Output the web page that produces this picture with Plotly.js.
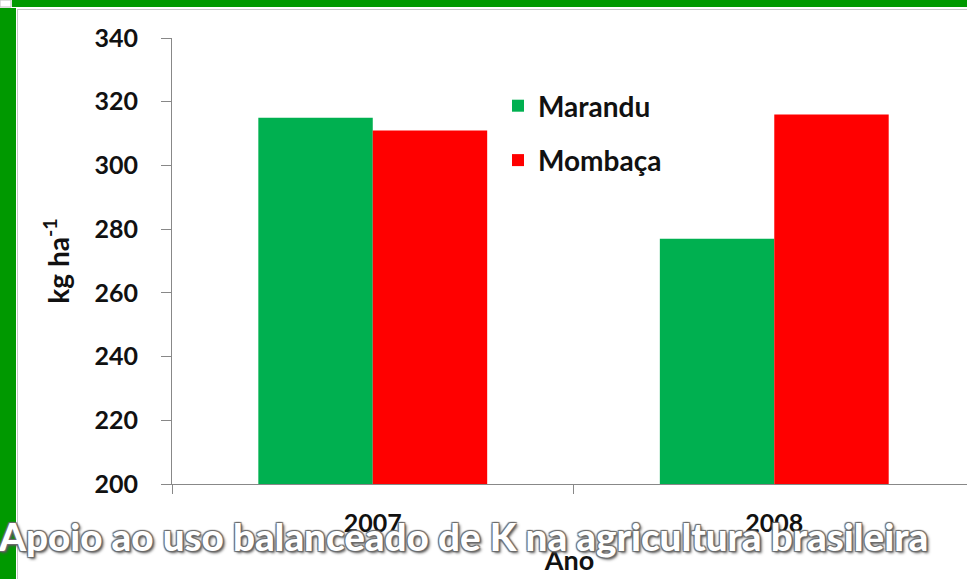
<!DOCTYPE html>
<html>
<head>
<meta charset="utf-8">
<script src="https://cdn.plot.ly/plotly-3.0.1.min.js"></script>
<style>
html,body{margin:0;padding:0;background:#fff;}
#chart{width:967px;height:579px;}
</style>
</head>
<body>
<div id="chart"></div>
<script>
const years = ['2007', '2008'];
const marandu = [315, 277];
const mombaca = [311, 316];
const seriesNames = ['Marandu', 'Mombaça'];
const yTicks = [200, 220, 240, 260, 280, 300, 320, 340];

const W = 967, H = 579;
const L = 172, R = 0, T = 38, B = 95;
const pw = W - L - R, ph = H - T - B;
function px(x) { return (x - L) / pw; }
function py(y) { return (H - B - y) / ph; }

const green = '#00B050', red = '#FF0000', frame = '#009900';
const fontMain = 'Lato, "Open Sans", sans-serif';

const traces = [
  { type: 'bar', x: years, y: marandu, name: seriesNames[0], legendgroup: 'a',
    marker: { color: green, line: { width: 0 } } },
  { type: 'bar', x: years, y: mombaca, name: seriesNames[1], legendgroup: 'b',
    marker: { color: red, line: { width: 0 } } }
];

const shapes = [
  { type: 'rect', xref: 'paper', yref: 'paper', x0: px(12), x1: px(967), y0: py(0), y1: py(7),
    fillcolor: frame, line: { width: 0 }, layer: 'below' },
  { type: 'rect', xref: 'paper', yref: 'paper', x0: px(0), x1: px(16), y0: py(8), y1: py(579),
    fillcolor: frame, line: { width: 0 }, layer: 'below' },
  { type: 'rect', xref: 'paper', yref: 'paper', x0: px(0), x1: px(11), y0: py(0), y1: py(7),
    fillcolor: '#ffffff', line: { width: 1, color: '#bdbdbd' }, layer: 'below' },
  { type: 'line', xref: 'paper', yref: 'paper', x0: px(17.5), x1: px(17.5), y0: py(9), y1: py(579),
    line: { width: 1, color: '#c8c8c8' }, layer: 'below' },
  { type: 'line', xref: 'paper', yref: 'paper', x0: px(17.5), x1: px(967), y0: py(9.5), y1: py(9.5),
    line: { width: 1, color: '#c8c8c8' }, layer: 'below' }
];

const layout = {
  width: W, height: H,
  margin: { l: L, r: R, t: T, b: B, pad: 0 },
  paper_bgcolor: '#ffffff', plot_bgcolor: '#ffffff',
  font: { family: fontMain, color: '#111111' },
  barmode: 'group', bargap: 0.43, bargroupgap: 0,
  showlegend: true,
  legend: {
    x: px(498), y: py(81), xanchor: 'left', yanchor: 'top',
    font: { family: fontMain, size: 28, weight: 'bold', color: '#111' },
    bgcolor: 'rgba(0,0,0,0)', tracegroupgap: 15, traceorder: 'grouped'
  },
  xaxis: {
    type: 'category', range: [-0.5, 1.48],
    showline: true, linecolor: '#888888', linewidth: 1,
    ticks: 'outside', tickson: 'boundaries', ticklen: 9, tickcolor: '#888888',
    tickfont: { family: fontMain, size: 25, weight: 'bold', color: '#111' },
    ticklabelstandoff: 17,
    showgrid: false, zeroline: false, fixedrange: true,
    title: { text: 'Ano', font: { family: fontMain, size: 27, weight: 'bold', color: '#111' }, standoff: 15 }
  },
  yaxis: {
    range: [200, 340], tickvals: yTicks, ticktext: yTicks.map(String),
    showline: true, linecolor: '#888888', linewidth: 1,
    ticks: 'outside', ticklen: 10, tickcolor: '#888888',
    tickfont: { family: fontMain, size: 25, weight: 'bold', color: '#111' },
    ticklabelstandoff: 18,
    showgrid: false, zeroline: false, fixedrange: true,
    title: { text: 'kg ha<sup>-1</sup>', font: { family: fontMain, size: 28, weight: 'bold', color: '#111' }, standoff: 16 }
  },
  shapes: shapes,
  annotations: [
    { xref: 'paper', yref: 'paper', x: px(-4), y: py(536), xanchor: 'left', yanchor: 'middle',
      showarrow: false, text: 'Apoio ao uso balanceado de K na agricultura brasileira',
      font: { family: fontMain, size: 38.5, weight: 900, color: '#ffffff',
        shadow: '-1px -1px 1px #6b6b6b, 1px -1px 1px #6b6b6b, -1px 1px 1px #6b6b6b, 1px 1px 1px #6b6b6b, 2px 2px 3px #555' } }
  ]
};

Plotly.newPlot('chart', traces, layout, { displayModeBar: false, staticPlot: true });
</script>
</body>
</html>
